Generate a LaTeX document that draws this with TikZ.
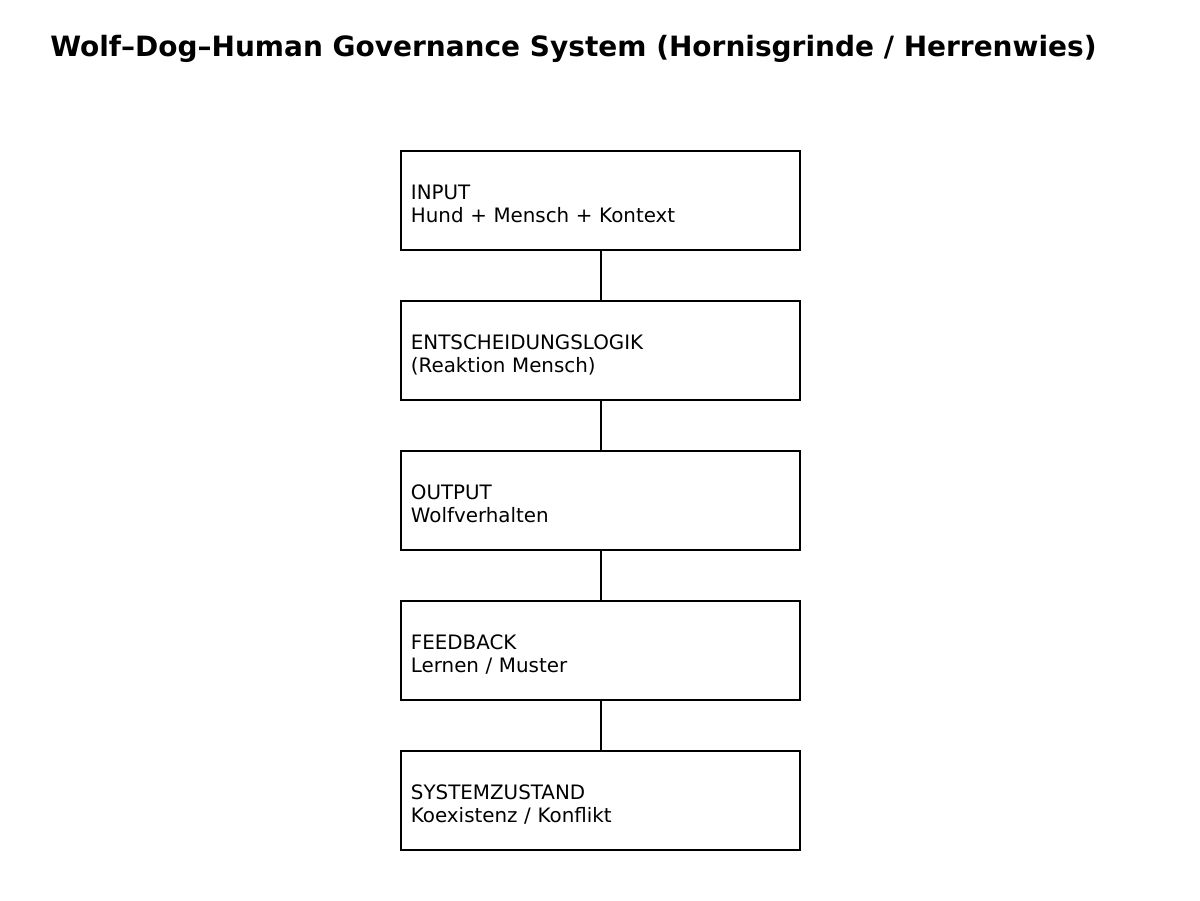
\documentclass[tikz,border=0pt]{standalone}
\usepackage{fontspec}
\setmainfont{DejaVu Sans}
\begin{document}
\begin{tikzpicture}[x=0.72pt,y=-0.72pt,
  box/.style={draw=black,line width=1.1pt,minimum width=287.3pt,minimum height=71.3pt,
    text width=273pt,inner xsep=7.2pt,inner ysep=0pt,align=left,
    text height=10pt,text depth=12.16pt,
    font=\fontsize{14.3}{16.6}\selectfont},
  conn/.style={draw=black,line width=1.1pt},
  titlestyle/.style={font=\fontsize{20.15}{24}\selectfont\bfseries,inner sep=0pt,anchor=base west}]
\useasboundingbox[fill=white] (0,0) rectangle (1200,900);
\node[titlestyle] (title) at (50,56) {Wolf–Dog–Human Governance System (Hornisgrinde / Herrenwies)};
\node[box] (b1) at (600.5,200.5) {INPUT\\Hund + Mensch + Kontext};
\node[box] (b2) at (600.5,350.5) {ENTSCHEIDUNGSLOGIK\\(Reaktion Mensch)};
\node[box] (b3) at (600.5,500.5) {OUTPUT\\Wolfverhalten};
\node[box] (b4) at (600.5,650.5) {FEEDBACK\\Lernen / Muster};
\node[box] (b5) at (600.5,800.5) {SYSTEMZUSTAND\\Koexistenz / Konflikt};
\draw[conn] ([xshift=0.36pt]b1.south) -- ([xshift=0.36pt]b2.north);
\draw[conn] ([xshift=0.36pt]b2.south) -- ([xshift=0.36pt]b3.north);
\draw[conn] ([xshift=0.36pt]b3.south) -- ([xshift=0.36pt]b4.north);
\draw[conn] ([xshift=0.36pt]b4.south) -- ([xshift=0.36pt]b5.north);
\end{tikzpicture}
\end{document}
